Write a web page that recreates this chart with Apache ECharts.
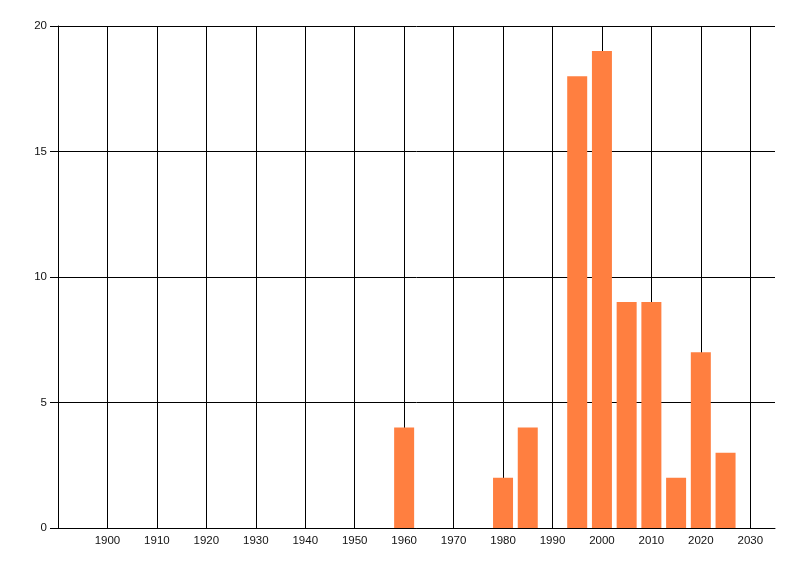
<!DOCTYPE html>
<html>
<head>
<meta charset="utf-8">
<script src="https://cdn.jsdelivr.net/npm/echarts@6/dist/echarts.min.js"></script>
<style>
  html, body { margin: 0; padding: 0; background: #fff; }
  #chart { width: 800px; height: 576px; }
</style>
</head>
<body>
<div id="chart"></div>
<script>
// years and counts
var years = [1960, 1980, 1985, 1995, 2000, 2005, 2010, 2015, 2020, 2025]
var counts = [4, 2, 4, 18, 19, 9, 9, 2, 7, 3]

var myChart = echarts.init(document.getElementById('chart'))
myChart.setOption({
  animation: false,
  grid: {
    left: 58,
    right: 25,
    top: 26,
    bottom: 48
  },
  xAxis: {
    type: 'value',
    min: 1890,
    max: 2035,
    interval: 10,
    axisLine: { lineStyle: { color: '#000', width: 1 } },
    axisTick: { show: false },
    axisLabel: {
      margin: 7,
      color: '#111',
      fontFamily: 'Liberation Sans',
      fontSize: 11.5,
      formatter: function (v) {
        return (v % 10 === 0 && v > 1890) ? String(v) : ''
      }
    },
    splitLine: {
      show: true,
      showMinLine: false,
      showMaxLine: false,
      lineStyle: { color: '#000', width: 1 }
    }
  },
  yAxis: {
    type: 'value',
    min: 0,
    max: 20,
    interval: 5,
    axisLine: { show: true, lineStyle: { color: '#000', width: 1 } },
    axisTick: { show: true, length: 8, lineStyle: { color: '#000' } },
    axisLabel: {
      margin: 11,
      color: '#111',
      fontFamily: 'Liberation Sans',
      fontSize: 11.5
    },
    splitLine: {
      show: true,
      lineStyle: { color: '#000', width: 1 }
    }
  },
  series: [{
    type: 'bar',
    barWidth: 20,
    itemStyle: { color: '#ff7f40' },
    data: years.map(function (y, i) { return [y, counts[i]] })
  }]
})
</script>
</body>
</html>
